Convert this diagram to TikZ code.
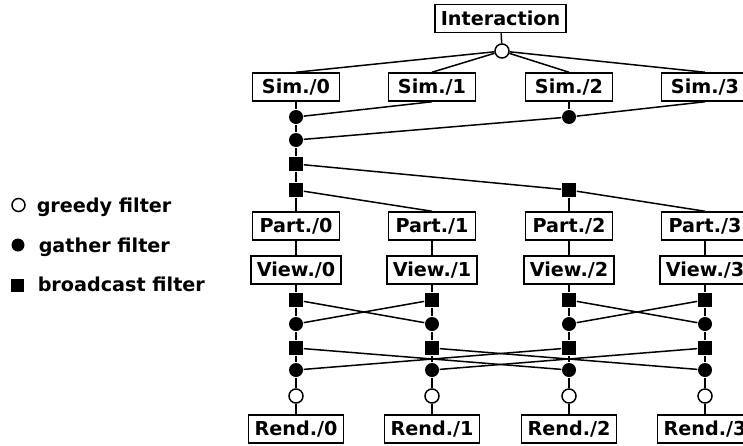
\documentclass[tikz,border=0pt]{standalone}
\usepackage{fontspec}
\setmainfont{DejaVu Sans}
\begin{document}
\begin{tikzpicture}[x = 0.5pt, y = -0.5pt, line width = 0.75pt,
	font = \fontsize{9.6}{11}\selectfont\bfseries,
	box/.style = {draw, fill = white, minimum width = 43.5pt, minimum height = 14pt, inner xsep = 3pt, inner ysep = 1pt},
	greedy/.style = {draw, circle, fill = white, minimum size = 7pt, inner sep = 0pt},
	gather/.style = {circle, fill = black, minimum size = 7pt, inner sep = 0pt},
	bcast/.style = {rectangle, fill = black, minimum size = 7pt, inner sep = 0pt}]
\useasboundingbox (0,0) rectangle (743,445);
% legend
\node[greedy, minimum size = 6.5pt] (lgreedy) at (18.5,205) {};
\node[gather, minimum size = 6.5pt] (lgather) at (18,245) {};
\node[bcast, minimum size = 6.5pt] (lbcast) at (17.5,285) {};
\node[anchor = base west, inner sep = 0pt] (tgreedy) at (36,212) {greedy filter};
\node[anchor = base west, inner sep = 0pt] (tgather) at (38,252) {gather filter};
\node[anchor = base west, inner sep = 0pt] (tbcast) at (37,291) {broadcast filter};
% top part
\node[box] (inter) at (500.5,18.5) {Interaction};
\node[greedy] (g) at (502,51) {};
\draw (inter) -- (g);
\foreach \i/\x in {0/296,1/432,2/569,3/705}
{
\node[box] (sim\i) at (\x,87) {Sim./\i};
\draw (g) -- (sim\i.north);
}
\node[gather] (s0a) at (296,117) {};
\node[gather] (s2a) at (569,117) {};
\node[gather] (s0b) at (296,140) {};
\node[bcast] (b0a) at (296,164) {};
\node[bcast] (b0b) at (296,190) {};
\node[bcast] (b2) at (569,190) {};
% lower part
\foreach \i/\x in {0/296,1/432,2/569,3/705}
{
\node[box] (part\i) at (\x,226) {Part./\i};
\node[box] (view\i) at (\x,270) {View./\i};
\node[bcast] (bA\i) at (\x,300) {};
\node[gather] (gA\i) at (\x,324) {};
\node[bcast] (bB\i) at (\x,348) {};
\node[gather] (gB\i) at (\x,370) {};
\node[greedy] (gr\i) at (\x,396) {};
\node[box] (rend\i) at (\x,429) {Rend./\i};
\draw (part\i) -- (view\i) -- (bA\i) -- (gA\i) -- (bB\i) -- (gB\i) -- (gr\i) -- (rend\i);
}
\draw (sim0) -- (s0a) -- (s0b) -- (b0a) -- (b0b) -- (part0);
\draw (sim1.south) -- (s0a);
\draw (sim2) -- (s2a);
\draw (sim3.south) -- (s2a);
\draw (s0b) -- (s2a);
\draw (b0a) -- (b2);
\draw (b0b) -- (part1.north);
\draw (b2) -- (part2);
\draw (b2) -- (part3.north);
\foreach \a/\b in {0/1,1/0,2/3,3/2}
\draw (bA\a) -- (gA\b);
\foreach \a/\b in {0/2,2/0,1/3,3/1}
\draw (bB\a) -- (gB\b);
\end{tikzpicture}
\end{document}
